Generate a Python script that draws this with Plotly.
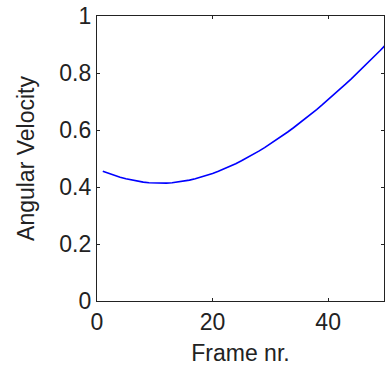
import plotly.graph_objects as go

frames = list(range(1, 51))
angular_velocity = [
    0.4550, 0.4474, 0.4404, 0.4342, 0.4288, 0.4241, 0.4202, 0.4171, 0.4148, 0.4135,
    0.4130, 0.4135, 0.4148, 0.4171, 0.4202, 0.4241, 0.4288, 0.4342, 0.4404, 0.4474,
    0.4550, 0.4632, 0.4722, 0.4817, 0.4919, 0.5026, 0.5139, 0.5258, 0.5382, 0.5512,
    0.5646, 0.5786, 0.5930, 0.6079, 0.6232, 0.6390, 0.6552, 0.6718, 0.6888, 0.7062,
    0.7240, 0.7422, 0.7607, 0.7796, 0.7989, 0.8185, 0.8384, 0.8586, 0.8791, 0.9000,
]
x_ticks = [0, 20, 40]
y_ticks = [0, 0.2, 0.4, 0.6, 0.8, 1]
y_tick_text = ["0", "0.2", "0.4", "0.6", "0.8", "1"]

FONT = "Liberation Sans, Arial, sans-serif"

fig = go.Figure(go.Scatter(
    x=frames, y=angular_velocity, mode="lines",
    line=dict(color="#0000ff", width=1.6),
    hoverinfo="skip",
))

axis_common = dict(
    showgrid=False, zeroline=False, showline=True, linecolor="#222",
    linewidth=1.4, mirror="ticks", ticks="inside", ticklen=3,
    tickcolor="#222", tickwidth=1,
    tickfont=dict(family=FONT, size=23, color="#222"),
)

fig.update_layout(
    width=385, height=376,
    margin=dict(l=97, r=1, t=16, b=75),
    paper_bgcolor="white", plot_bgcolor="white",
    showlegend=False,
    xaxis=dict(range=[0, 49.66], tickvals=x_ticks,
               title=dict(text="Frame nr.", font=dict(family=FONT, size=23, color="#222"), standoff=11),
               automargin=False, **axis_common),
    yaxis=dict(range=[0, 1], tickvals=y_ticks, ticktext=y_tick_text,
               title=dict(text="Angular Velocity", font=dict(family=FONT, size=23, color="#222"), standoff=18),
               automargin=False, **axis_common),
)

fig.write_html("out.html")
